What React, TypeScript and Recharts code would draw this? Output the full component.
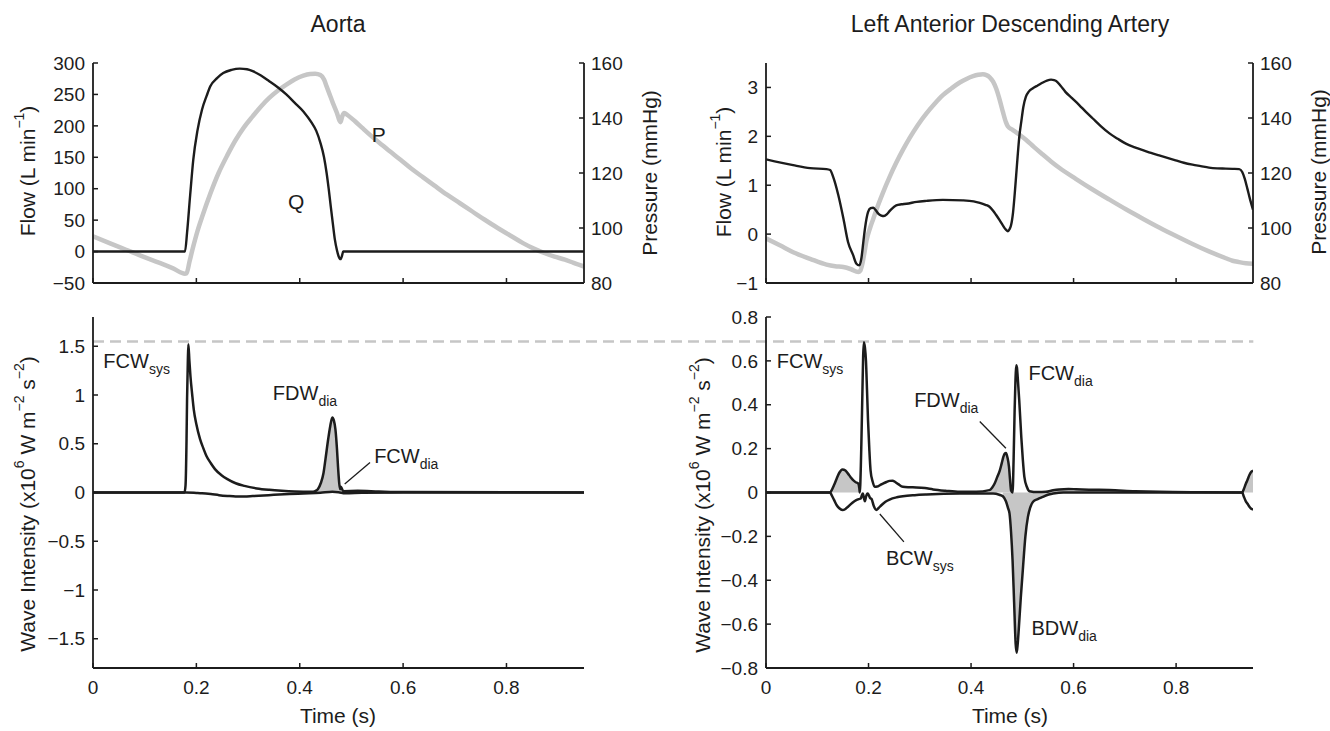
import React from "react";
import {
  Area,
  ComposedChart,
  Line,
  ReferenceDot,
  ReferenceLine,
  XAxis,
  YAxis,
} from "recharts";

// ---- ticks ----
const timeTicks = [0, 0.2, 0.4, 0.6, 0.8];
const aortaFlowTicks = [-50, 0, 50, 100, 150, 200, 250, 300];
const pressureTicks = [80, 100, 120, 140, 160];
const ladFlowTicks = [-1, 0, 1, 2, 3];
const aortaWiTicks = [-1.5, -1, -0.5, 0, 0.5, 1, 1.5];
const ladWiTicks = [-0.8, -0.6, -0.4, -0.2, 0, 0.2, 0.4, 0.6, 0.8];

// ---- series: [time (s), value] ----
const aortaFlow = [
  [0, 0], [0.178, 0], [0.182, 30], [0.188, 90], [0.194, 146], [0.202, 192], [0.211, 226],
  [0.22, 248], [0.227, 263], [0.24, 276], [0.252, 284], [0.268, 289], [0.284, 291],
  [0.298, 290], [0.309, 287], [0.325, 280], [0.341, 271], [0.358, 261], [0.374, 250],
  [0.39, 237], [0.407, 223], [0.423, 205], [0.432, 192], [0.44, 173], [0.447, 150],
  [0.452, 125], [0.456, 100], [0.46, 72], [0.464, 45], [0.468, 19], [0.472, 2],
  [0.475, -7], [0.479, -12], [0.482, -6], [0.484, 0], [0.95, 0],
];

const aortaPressure = [
  [0, 97], [0.032, 94.5], [0.064, 92.1], [0.097, 89.6], [0.129, 87.3], [0.155, 85.3],
  [0.178, 83.4], [0.181, 83.5], [0.187, 88], [0.194, 93.3], [0.202, 98.8], [0.211, 104],
  [0.227, 112.5], [0.243, 120], [0.26, 126.5], [0.276, 132], [0.292, 136.6], [0.309, 140.6],
  [0.325, 144.2], [0.341, 147.3], [0.358, 150], [0.374, 152.1], [0.39, 154], [0.407, 155.4],
  [0.42, 156], [0.43, 156.1], [0.44, 155.6], [0.447, 154], [0.452, 151.5], [0.458, 148.5],
  [0.464, 145.5], [0.472, 141.8], [0.477, 139], [0.479, 138.5], [0.482, 140.5],
  [0.486, 141.8], [0.493, 141], [0.507, 138.8], [0.521, 136.4], [0.537, 133.7],
  [0.554, 131], [0.575, 127.8], [0.595, 124.8], [0.615, 121.7], [0.636, 118.8],
  [0.66, 115.5], [0.685, 112.1], [0.71, 109], [0.734, 106], [0.758, 103], [0.783, 100],
  [0.808, 97.2], [0.832, 94.5], [0.853, 92.5], [0.873, 90.9], [0.893, 89.6], [0.913, 88.5],
  [0.93, 87.3], [0.95, 86],
];

const ladFlow = [
  [0, 1.53], [0.053, 1.41], [0.086, 1.35], [0.118, 1.33], [0.125, 1.31], [0.131, 1.17],
  [0.141, 0.8], [0.151, 0.32], [0.16, -0.16], [0.17, -0.43], [0.176, -0.6], [0.182, -0.64],
  [0.186, -0.5], [0.19, -0.15], [0.193, 0.11], [0.199, 0.45], [0.204, 0.53], [0.209, 0.54],
  [0.214, 0.49], [0.219, 0.42], [0.225, 0.38], [0.23, 0.37], [0.236, 0.41], [0.241, 0.47],
  [0.248, 0.54], [0.254, 0.59], [0.264, 0.61], [0.274, 0.62], [0.294, 0.66], [0.313, 0.68],
  [0.345, 0.7], [0.384, 0.69], [0.405, 0.67], [0.417, 0.64], [0.428, 0.6], [0.436, 0.56],
  [0.443, 0.48], [0.449, 0.39], [0.456, 0.28], [0.462, 0.18], [0.468, 0.09], [0.472, 0.06],
  [0.475, 0.1], [0.478, 0.18], [0.482, 0.45], [0.485, 0.8], [0.488, 1.2], [0.491, 1.61],
  [0.494, 1.98], [0.498, 2.3], [0.502, 2.6], [0.507, 2.81], [0.513, 2.92], [0.52, 2.98],
  [0.53, 3.04], [0.54, 3.1], [0.548, 3.14], [0.556, 3.16], [0.562, 3.15], [0.566, 3.13],
  [0.575, 3.03], [0.584, 2.91], [0.597, 2.78], [0.611, 2.64], [0.624, 2.5], [0.637, 2.37],
  [0.653, 2.21], [0.67, 2.06], [0.686, 1.95], [0.702, 1.85], [0.718, 1.78], [0.735, 1.72],
  [0.751, 1.66], [0.767, 1.61], [0.783, 1.56], [0.799, 1.51], [0.815, 1.46], [0.832, 1.42],
  [0.848, 1.39], [0.864, 1.36], [0.88, 1.345], [0.897, 1.34], [0.91, 1.335], [0.923, 1.33],
  [0.929, 1.27], [0.934, 1.13], [0.939, 0.93], [0.944, 0.72], [0.95, 0.5],
];

const ladPressure = [
  [0, 96.2], [0.027, 93.7], [0.053, 91.2], [0.086, 88.8], [0.118, 86.7], [0.135, 86.1],
  [0.151, 85.8], [0.166, 85], [0.18, 84], [0.184, 84.5], [0.188, 87], [0.192, 91],
  [0.196, 95.4], [0.203, 100], [0.209, 103.2], [0.218, 108], [0.228, 112.8], [0.241, 118.5],
  [0.254, 123.7], [0.267, 128.4], [0.28, 132.7], [0.296, 137.4], [0.313, 141.7],
  [0.329, 145.2], [0.345, 148.3], [0.362, 150.8], [0.378, 152.9], [0.391, 154.2],
  [0.404, 155.2], [0.414, 155.7], [0.423, 155.9], [0.43, 155.6], [0.436, 154.9],
  [0.443, 153.2], [0.449, 150.7], [0.456, 146.5], [0.462, 142.3], [0.468, 138.5],
  [0.472, 136.9], [0.481, 135.7], [0.494, 134], [0.507, 132.1], [0.523, 129.4],
  [0.54, 126.7], [0.556, 124.2], [0.572, 121.9], [0.605, 117.8], [0.637, 114],
  [0.67, 110.3], [0.702, 106.8], [0.735, 103.4], [0.767, 100.2], [0.8, 97.1], [0.832, 94.2],
  [0.864, 91.5], [0.897, 89], [0.91, 88.1], [0.923, 87.6], [0.936, 87.2], [0.95, 87],
];

const aortaWiFwd = [
  [0, 0], [0.177, 0], [0.179, 0.07], [0.181, 0.55], [0.182, 0.96], [0.1835, 1.35],
  [0.1845, 1.52], [0.1865, 1.35], [0.1886, 1.19], [0.192, 1.0], [0.195, 0.85], [0.2, 0.7],
  [0.207, 0.55], [0.213, 0.46], [0.2195, 0.375], [0.228, 0.3], [0.236, 0.24], [0.248, 0.18],
  [0.26, 0.137], [0.276, 0.095], [0.293, 0.068], [0.317, 0.042], [0.341, 0.027],
  [0.365, 0.017], [0.39, 0.01], [0.423, 0.007], [0.43, 0.015], [0.435, 0.034], [0.441, 0.1],
  [0.446, 0.2], [0.45, 0.35], [0.455, 0.546], [0.459, 0.68], [0.463, 0.77], [0.466, 0.74],
  [0.469, 0.65], [0.472, 0.45], [0.474, 0.27], [0.476, 0.12], [0.478, 0.034],
  [0.4795, 0.06], [0.481, 0.045], [0.4845, 0.014], [0.512, 0.017], [0.553, 0.01],
  [0.6, 0.004], [0.95, 0],
];

const aortaWiBwd = [
  [0, 0], [0.18, 0], [0.2, -0.004], [0.211, -0.007], [0.228, -0.016], [0.244, -0.027],
  [0.26, -0.035], [0.276, -0.041], [0.293, -0.041], [0.309, -0.037], [0.33, -0.031],
  [0.35, -0.024], [0.38, -0.016], [0.407, -0.01], [0.44, -0.003], [0.463, 0.007],
  [0.475, 0.003], [0.488, -0.007], [0.52, -0.003], [0.6, 0], [0.95, 0],
];

const ladWiFwd = [
  [0, 0], [0.125, 0], [0.128, 0.01], [0.133, 0.035], [0.138, 0.064], [0.143, 0.09],
  [0.149, 0.105], [0.155, 0.1], [0.16, 0.086], [0.165, 0.07], [0.17, 0.056], [0.175, 0.047],
  [0.18, 0.041], [0.182, 0.02], [0.183, 0], [0.185, 0.12], [0.186, 0.22], [0.188, 0.45],
  [0.1895, 0.62], [0.191, 0.685], [0.193, 0.66], [0.195, 0.6], [0.197, 0.47], [0.199, 0.33],
  [0.2015, 0.2], [0.204, 0.1], [0.208, 0.05], [0.212, 0.026], [0.217, 0.027], [0.222, 0.033],
  [0.229, 0.042], [0.235, 0.048], [0.241, 0.053], [0.247, 0.054], [0.252, 0.048],
  [0.258, 0.038], [0.267, 0.026], [0.28, 0.024], [0.293, 0.023], [0.31, 0.02],
  [0.326, 0.014], [0.35, 0.008], [0.378, 0.003], [0.41, 0.003], [0.436, 0.011],
  [0.441, 0.022], [0.446, 0.041], [0.451, 0.07], [0.456, 0.1], [0.46, 0.135], [0.463, 0.162],
  [0.466, 0.178], [0.468, 0.18], [0.471, 0.16], [0.474, 0.117], [0.476, 0.06], [0.478, 0.01],
  [0.481, 0], [0.483, 0.15], [0.485, 0.374], [0.4865, 0.5], [0.488, 0.58], [0.4895, 0.57],
  [0.491, 0.526], [0.494, 0.42], [0.498, 0.253], [0.501, 0.15], [0.504, 0.071],
  [0.509, 0.025], [0.514, 0.006], [0.53, 0.002], [0.546, 0.003], [0.56, 0.01],
  [0.572, 0.014], [0.59, 0.016], [0.605, 0.015], [0.63, 0.013], [0.67, 0.011],
  [0.72, 0.006], [0.767, 0.003], [0.85, 0.001], [0.929, 0], [0.932, 0.015], [0.936, 0.04],
  [0.939, 0.056], [0.943, 0.08], [0.947, 0.095], [0.95, 0.1],
];

const ladWiBwd = [
  [0, 0], [0.125, 0], [0.128, -0.012], [0.133, -0.035], [0.138, -0.058], [0.143, -0.072],
  [0.149, -0.08], [0.155, -0.075], [0.16, -0.065], [0.168, -0.048], [0.176, -0.035],
  [0.181, -0.03], [0.185, -0.027], [0.187, -0.012], [0.189, -0.005], [0.191, -0.025],
  [0.193, -0.04], [0.195, -0.02], [0.198, -0.005], [0.2, -0.01], [0.203, -0.025],
  [0.206, -0.03], [0.21, -0.06], [0.215, -0.08], [0.22, -0.07], [0.225, -0.058],
  [0.233, -0.042], [0.241, -0.032], [0.255, -0.022], [0.267, -0.017], [0.29, -0.012],
  [0.313, -0.009], [0.378, -0.005], [0.443, -0.005], [0.455, -0.01], [0.462, -0.017],
  [0.468, -0.04], [0.472, -0.07], [0.475, -0.095], [0.478, -0.18], [0.481, -0.31],
  [0.484, -0.5], [0.487, -0.69], [0.489, -0.73], [0.491, -0.69], [0.493, -0.626],
  [0.497, -0.48], [0.501, -0.353], [0.506, -0.2], [0.511, -0.11], [0.516, -0.065],
  [0.521, -0.042], [0.53, -0.03], [0.54, -0.02], [0.55, -0.01], [0.56, -0.005], [0.58, 0],
  [0.929, 0], [0.932, -0.018], [0.936, -0.04], [0.939, -0.05], [0.943, -0.065],
  [0.947, -0.075], [0.95, -0.077],
];

// shaded (decompression) intervals, seconds
const aortaFwdShade = [[0.43, 0.4845]];
const ladFwdShade = [[0.125, 0.183], [0.436, 0.481], [0.546, 0.72], [0.929, 0.95]];
const ladBwdShade = [[0.462, 0.56]];

// peak FCW_sys level shared by both lower panels
const aortaPeakLevel = 1.55;

const FONT = '"Liberation Sans", Arial, Helvetica, sans-serif';
const INK = "#1c1c1c";
const GREY = "#c6c6c6";

const rows = (pts: number[][]) => pts.map(([t, v]) => ({ t, v }));
const shade = (pts: number[][], [a, b]: number[]) => rows(pts.filter(([t]) => t >= a && t <= b));
const fmt = (v: number) => (v < 0 ? `\u2212${Math.abs(v)}` : `${v}`);

const tickStyle = { fill: INK, fontSize: 19, fontFamily: FONT };
const axisLine = { stroke: INK, strokeWidth: 1.8 };
const tickLine = { stroke: INK, strokeWidth: 1.5 };

function annot(main: string, sub = "", anchor: "start" | "middle" = "start", size = 20) {
  return (props: any) => {
    const vb = props.viewBox || { x: 0, y: 0, width: 0, height: 0 };
    const x = vb.x + (vb.width || 0) / 2;
    const y = vb.y + (vb.height || 0) / 2;
    return (
      <text
        x={x}
        y={y}
        textAnchor={anchor}
        dominantBaseline={sub ? "alphabetic" : "central"}
        fontSize={size}
        fontFamily={FONT}
        fill={INK}
      >
        {main}
        {sub && (
          <tspan fontSize={14} dy={6}>
            {sub}
          </tspan>
        )}
      </text>
    );
  };
}

function timeAxis(labels: boolean) {
  return (
    <XAxis
      type="number"
      dataKey="t"
      domain={[0, 0.95]}
      ticks={timeTicks}
      allowDataOverflow
      interval={0}
      tickSize={-5}
      tickMargin={18}
      axisLine={axisLine}
      tickLine={tickLine}
      tick={tickStyle}
      tickFormatter={labels ? (v: number) => `${v}` : () => ""}
      height={labels ? 40 : 10}
    />
  );
}

function AortaFlowPanel() {
  return (
    <ComposedChart width={665} height={300} margin={{ top: 63, right: 21, bottom: 7, left: 33 }}>
      {timeAxis(false)}
      <YAxis yAxisId="q" type="number" domain={[-50, 300]} ticks={aortaFlowTicks} interval={0}
        width={60} tickSize={-5} tickMargin={13} axisLine={axisLine} tickLine={tickLine}
        tick={tickStyle} tickFormatter={fmt} allowDataOverflow />
      <YAxis yAxisId="p" orientation="right" type="number" domain={[80, 160]} ticks={pressureTicks}
        interval={0} width={60} tickSize={-5} tickMargin={12} axisLine={axisLine}
        tickLine={tickLine} tick={tickStyle} allowDataOverflow />
      <Line yAxisId="p" data={rows(aortaPressure)} dataKey="v" type="monotone" stroke={GREY}
        strokeWidth={4.5} dot={false} activeDot={false} isAnimationActive={false} />
      <Line yAxisId="q" data={rows(aortaFlow)} dataKey="v" type="monotone" stroke={INK}
        strokeWidth={2.4} dot={false} activeDot={false} isAnimationActive={false} />
      <ReferenceDot yAxisId="q" x={0.393} y={80} r={0} ifOverflow="visible" shape={() => <g />}
        label={annot("Q", "", "middle", 21)} />
      <ReferenceDot yAxisId="q" x={0.553} y={187} r={0} ifOverflow="visible" shape={() => <g />}
        label={annot("P", "", "middle", 21)} />
    </ComposedChart>
  );
}

function LadFlowPanel() {
  return (
    <ComposedChart width={665} height={300} margin={{ top: 63, right: 17, bottom: 7, left: 41 }}>
      {timeAxis(false)}
      <YAxis yAxisId="q" type="number" domain={[-1, 3.5]} ticks={ladFlowTicks} interval={0}
        width={60} tickSize={-5} tickMargin={13} axisLine={axisLine} tickLine={tickLine}
        tick={tickStyle} tickFormatter={fmt} allowDataOverflow />
      <YAxis yAxisId="p" orientation="right" type="number" domain={[80, 160]} ticks={pressureTicks}
        interval={0} width={60} tickSize={-5} tickMargin={12} axisLine={axisLine}
        tickLine={tickLine} tick={tickStyle} allowDataOverflow />
      <Line yAxisId="p" data={rows(ladPressure)} dataKey="v" type="monotone" stroke={GREY}
        strokeWidth={4.5} dot={false} activeDot={false} isAnimationActive={false} />
      <Line yAxisId="q" data={rows(ladFlow)} dataKey="v" type="monotone" stroke={INK}
        strokeWidth={2.4} dot={false} activeDot={false} isAnimationActive={false} />
    </ComposedChart>
  );
}

function AortaWavePanel() {
  return (
    <ComposedChart width={665} height={431} margin={{ top: 17, right: 81, bottom: 23, left: 33 }}>
      {timeAxis(true)}
      <YAxis type="number" domain={[-1.8, 1.8]} ticks={aortaWiTicks} interval={0} width={60}
        tickSize={-5} tickMargin={13} axisLine={axisLine} tickLine={tickLine} tick={tickStyle}
        tickFormatter={fmt} allowDataOverflow />
      <ReferenceLine
        segment={[{ x: 0, y: aortaPeakLevel }, { x: 2.245, y: aortaPeakLevel }]}
        stroke={GREY} strokeWidth={2.5} strokeDasharray="11 6" ifOverflow="visible" />
      {aortaFwdShade.map((r, i) => (
        <Area key={i} data={shade(aortaWiFwd, r)} dataKey="v" type="monotone" baseValue={0}
          fill={GREY} fillOpacity={1} stroke="none" dot={false} activeDot={false}
          isAnimationActive={false} />
      ))}
      <Line data={rows(aortaWiBwd)} dataKey="v" type="monotone" stroke={INK} strokeWidth={2.5}
        dot={false} activeDot={false} isAnimationActive={false} />
      <Line data={rows(aortaWiFwd)} dataKey="v" type="monotone" stroke={INK} strokeWidth={2.5}
        dot={false} activeDot={false} isAnimationActive={false} />
      <ReferenceLine segment={[{ x: 0.536, y: 0.307 }, { x: 0.487, y: 0.087 }]} stroke={INK}
        strokeWidth={1.3} ifOverflow="visible" />
      <ReferenceDot x={0.02} y={1.28} r={0} ifOverflow="visible" shape={() => <g />}
        label={annot("FCW", "sys")} />
      <ReferenceDot x={0.348} y={0.95} r={0} ifOverflow="visible" shape={() => <g />}
        label={annot("FDW", "dia")} />
      <ReferenceDot x={0.544} y={0.3} r={0} ifOverflow="visible" shape={() => <g />}
        label={annot("FCW", "dia")} />
    </ComposedChart>
  );
}

function LadWavePanel() {
  return (
    <ComposedChart width={665} height={431} margin={{ top: 17, right: 77, bottom: 23, left: 41 }}>
      {timeAxis(true)}
      <YAxis type="number" domain={[-0.8, 0.8]} ticks={ladWiTicks} interval={0} width={60}
        tickSize={-5} tickMargin={13} axisLine={axisLine} tickLine={tickLine} tick={tickStyle}
        tickFormatter={fmt} allowDataOverflow />
      {ladFwdShade.map((r, i) => (
        <Area key={`f${i}`} data={shade(ladWiFwd, r)} dataKey="v" type="monotone" baseValue={0}
          fill={GREY} fillOpacity={1} stroke="none" dot={false} activeDot={false}
          isAnimationActive={false} />
      ))}
      {ladBwdShade.map((r, i) => (
        <Area key={`b${i}`} data={shade(ladWiBwd, r)} dataKey="v" type="monotone" baseValue={0}
          fill={GREY} fillOpacity={1} stroke="none" dot={false} activeDot={false}
          isAnimationActive={false} />
      ))}
      <Line data={rows(ladWiBwd)} dataKey="v" type="monotone" stroke={INK} strokeWidth={2.5}
        dot={false} activeDot={false} isAnimationActive={false} />
      <Line data={rows(ladWiFwd)} dataKey="v" type="monotone" stroke={INK} strokeWidth={2.5}
        dot={false} activeDot={false} isAnimationActive={false} />
      <ReferenceLine segment={[{ x: 0.417, y: 0.324 }, { x: 0.468, y: 0.202 }]} stroke={INK}
        strokeWidth={1.3} ifOverflow="visible" />
      <ReferenceLine segment={[{ x: 0.269, y: -0.225 }, { x: 0.222, y: -0.098 }]} stroke={INK}
        strokeWidth={1.3} ifOverflow="visible" />
      <ReferenceDot x={0.021} y={0.569} r={0} ifOverflow="visible" shape={() => <g />}
        label={annot("FCW", "sys")} />
      <ReferenceDot x={0.512} y={0.511} r={0} ifOverflow="visible" shape={() => <g />}
        label={annot("FCW", "dia")} />
      <ReferenceDot x={0.289} y={0.392} r={0} ifOverflow="visible" shape={() => <g />}
        label={annot("FDW", "dia")} />
      <ReferenceDot x={0.234} y={-0.331} r={0} ifOverflow="visible" shape={() => <g />}
        label={annot("BCW", "sys")} />
      <ReferenceDot x={0.518} y={-0.651} r={0} ifOverflow="visible" shape={() => <g />}
        label={annot("BDW", "dia")} />
    </ComposedChart>
  );
}

function VLabel({ x, y, children }: { x: number; y: number; children: React.ReactNode }) {
  return (
    <text x={x} y={y} transform={`rotate(-90 ${x} ${y})`} textAnchor="middle"
      dominantBaseline="central" fontSize={21} fontFamily={FONT} fill={INK}>
      {children}
    </text>
  );
}

const flowLabel = (
  <>
    Flow (L min<tspan fontSize={14} dy={-8}>{"\u22121"}</tspan>
    <tspan dy={8}>)</tspan>
  </>
);
const waveLabel = (
  <>
    Wave Intensity (x10<tspan fontSize={14} dy={-8}>6</tspan>
    <tspan dy={8}> W m</tspan>
    <tspan fontSize={14} dy={-8}>{"\u22122"}</tspan>
    <tspan dy={8}> s</tspan>
    <tspan fontSize={14} dy={-8}>{"\u22122"}</tspan>
    <tspan dy={8}>)</tspan>
  </>
);

export default function App() {
  return (
    <div style={{ position: "absolute", left: 0, top: 0, width: 1330, height: 731,
      background: "#fff", fontFamily: FONT, overflow: "hidden" }}>
      <style>{".recharts-surface{overflow:visible}"}</style>
      <div style={{ position: "absolute", left: 0, top: 0 }}><AortaFlowPanel /></div>
      <div style={{ position: "absolute", left: 665, top: 0 }}><LadFlowPanel /></div>
      <div style={{ position: "absolute", left: 0, top: 300 }}><AortaWavePanel /></div>
      <div style={{ position: "absolute", left: 665, top: 300 }}><LadWavePanel /></div>
      <svg width={1330} height={731} style={{ position: "absolute", left: 0, top: 0, pointerEvents: "none" }}>
        <text x={338} y={32} textAnchor="middle" fontSize={23} fontFamily={FONT} fill={INK}>Aorta</text>
        <text x={1010} y={32} textAnchor="middle" fontSize={23} fontFamily={FONT} fill={INK}>
          Left Anterior Descending Artery
        </text>
        <VLabel x={27} y={171}>{flowLabel}</VLabel>
        <VLabel x={649} y={173}>Pressure (mmHg)</VLabel>
        <VLabel x={723} y={172}>{flowLabel}</VLabel>
        <VLabel x={1318} y={172}>Pressure (mmHg)</VLabel>
        <VLabel x={27} y={504}>{waveLabel}</VLabel>
        <VLabel x={702} y={505}>{waveLabel}</VLabel>
        <text x={338} y={715} textAnchor="middle" dominantBaseline="central" fontSize={21}
          fontFamily={FONT} fill={INK}>Time (s)</text>
        <text x={1010} y={715} textAnchor="middle" dominantBaseline="central" fontSize={21}
          fontFamily={FONT} fill={INK}>Time (s)</text>
      </svg>
    </div>
  );
}
